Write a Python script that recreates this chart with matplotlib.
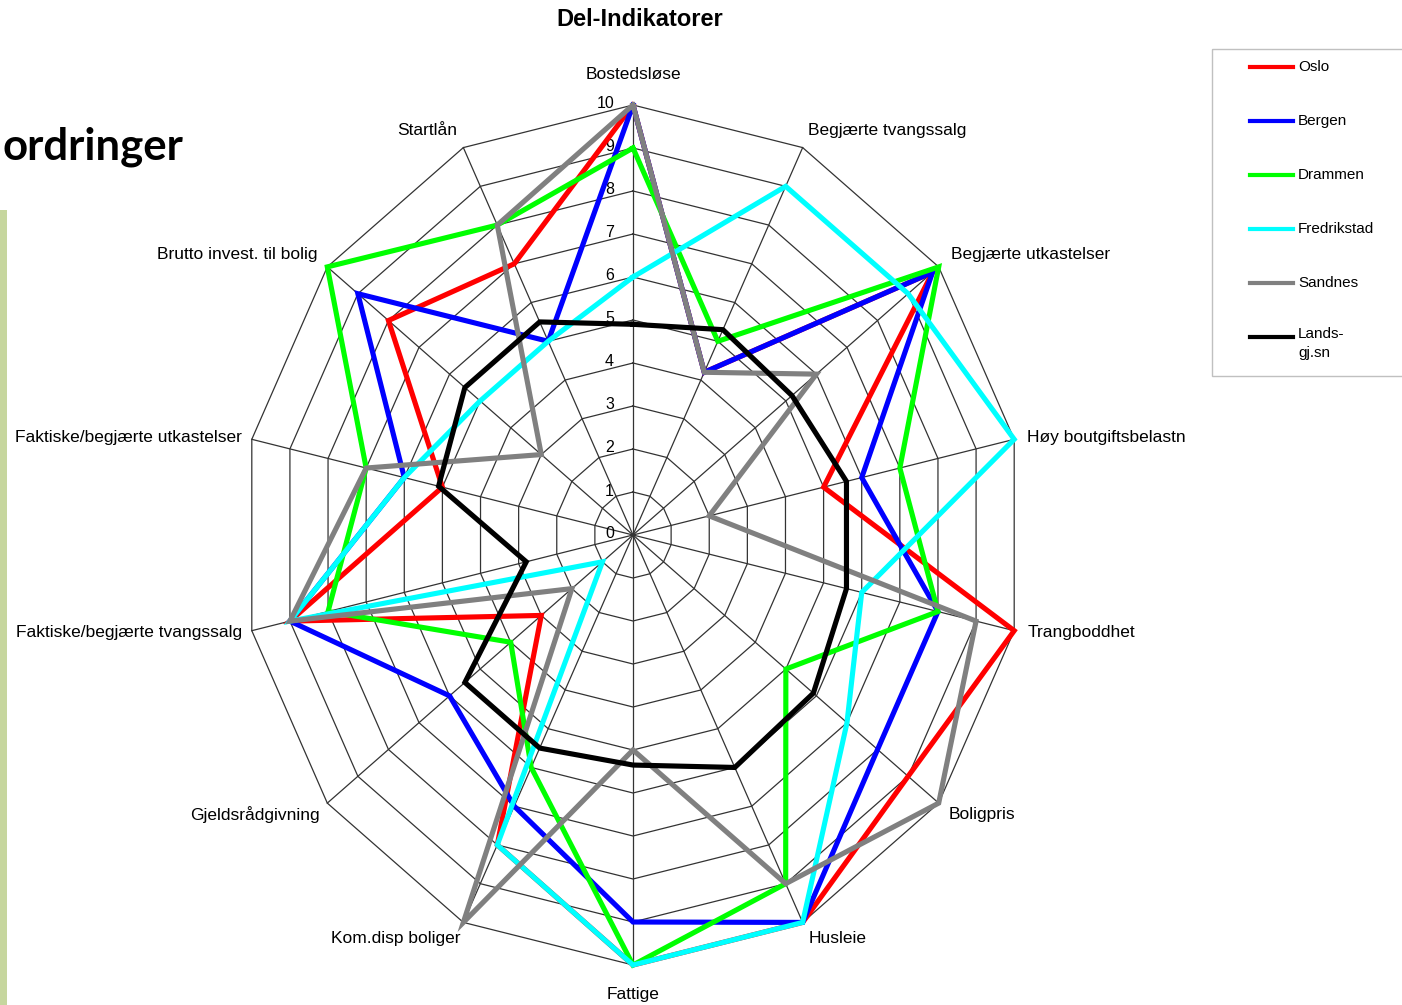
import numpy as np
import matplotlib
matplotlib.use("Agg")
import matplotlib.pyplot as plt
from matplotlib.patches import Rectangle

plt.rcParams['font.family'] = ['Liberation Sans', 'DejaVu Sans']

# data (scale 0-10)
categories = ['Bostedsløse', 'Begjærte tvangssalg', 'Begjærte utkastelser',
              'Høy boutgiftsbelastn', 'Trangboddhet', 'Boligpris', 'Husleie',
              'Fattige', 'Kom.disp boliger', 'Gjeldsrådgivning',
              'Faktiske/begjærte tvangssalg', 'Faktiske/begjærte utkastelser',
              'Brutto invest. til bolig', 'Startlån']
oslo = [10, 4.2, 9.8, 5, 10, 9, 10, 10, 8, 3, 9, 5, 8, 7]
bergen = [10, 4.2, 9.8, 6, 8, 8, 10, 9, 7, 6, 9, 6, 9, 5]
drammen = [9, 5, 10, 7, 8, 5, 9, 10, 6, 4, 8, 7, 10, 8]
fredrikstad = [6, 9, 9, 10, 6, 7, 10, 10, 8, 1, 9, 6, 5, 5]
sandnes = [10, 4.2, 6, 2, 9, 10, 9, 5, 10, 2, 9, 7, 3, 8]
landsgjsn = [4.9, 5.3, 5.2, 5.6, 5.6, 5.9, 6, 5.35, 5.5, 5.5, 2.8, 5.1, 5.5, 5.5]
series = [oslo, bergen, drammen, fredrikstad, sandnes, landsgjsn]
series_names = ['Oslo', 'Bergen', 'Drammen', 'Fredrikstad', 'Sandnes', 'Lands-\ngj.sn']
series_colors = ['#ff0000', '#0000ff', '#00ff00', '#00ffff', '#808080', '#000000']
ticks = list(range(0, 11))

W, H = 1402, 1005
fig = plt.figure(figsize=(W / 100, H / 100), dpi=100)

# page layer in pixel coords (slide leftovers + legend)
page = fig.add_axes([0, 0, 1, 1])
page.set_xlim(0, W)
page.set_ylim(H, 0)
page.axis('off')

# radar axes: centre at (633, 535) px, 39.1 px/unit across, 43 px/unit down
cx, cy, ux, uy = 633, 535, 39.1, 43.0
ax = fig.add_axes([(cx - 11 * ux) / W, (H - (cy + 10.6 * uy)) / H,
                   22 * ux / W, 22.6 * uy / H])
ax.set_xlim(-11, 11)
ax.set_ylim(-10.6, 12)
ax.axis('off')

n = len(categories)
theta = 2 * np.pi * np.arange(n) / n
sx, sy = np.sin(theta), np.cos(theta)

grid_col = '#333333'
for r in ticks[1:]:
    ax.plot(np.append(r * sx, r * sx[0]), np.append(r * sy, r * sy[0]),
            color=grid_col, lw=0.9, zorder=1)
for i in range(n):
    ax.plot([0, 10 * sx[i]], [0, 10 * sy[i]], color=grid_col, lw=0.9, zorder=1)

for t in ticks:
    ax.annotate(str(t), (0, t), xytext=(-19, 1), textcoords='offset pixels',
                ha='right', va='center', fontsize=11.5, zorder=2)

for vals, col in zip(series, series_colors):
    v = np.array(vals)
    ax.plot(np.append(v * sx, v[0] * sx[0]), np.append(v * sy, v[0] * sy[0]),
            color=col, lw=3.7, solid_joinstyle='miter', zorder=3)

label_off = [(0, 30, 'center'), (5, 17, 'left'), (12, 12, 'left'), (13, 2, 'left'),
             (13, -2, 'left'), (10, -11, 'left'), (6, -16, 'left'), (0, -29, 'center'),
             (-3, -16, 'right'), (-8, -11, 'right'), (-10, -2, 'right'),
             (-10, 2, 'right'), (-10, 12, 'right'), (-6, 17, 'right')]
for i, name in enumerate(categories):
    dx, dy, ha = label_off[i]
    ax.annotate(name, (10 * sx[i], 10 * sy[i]), xytext=(dx, dy),
                textcoords='offset pixels', ha=ha, va='center', fontsize=12.5)

fig.text(640 / W, 1 - 20 / H, 'Del-Indikatorer', ha='center', va='center',
         fontsize=17, fontweight='bold')

# slide leftovers
page.text(183, 147, 'ordringer', ha='right', va='center', fontsize=31.5,
          fontweight='bold', family=['Lato', 'DejaVu Sans'])
page.add_patch(Rectangle((0, 210), 7, H - 210, color='#c6d69e', lw=0))

# legend box (cut at right edge)
page.add_patch(Rectangle((1212, 49), 220, 327, fill=False, edgecolor='#c0c0c0', lw=1))
for k, (name, col) in enumerate(zip(series_names, series_colors)):
    yy = 67 + 54 * k
    page.plot([1250, 1293], [yy, yy], color=col, lw=3)
    if '\n' in name:
        page.text(1298, yy - 10, name, ha='left', va='top', fontsize=11, linespacing=1.45)
    else:
        page.text(1298, yy, name, ha='left', va='center', fontsize=11)

fig.savefig('out.png', dpi=100, facecolor='white')
